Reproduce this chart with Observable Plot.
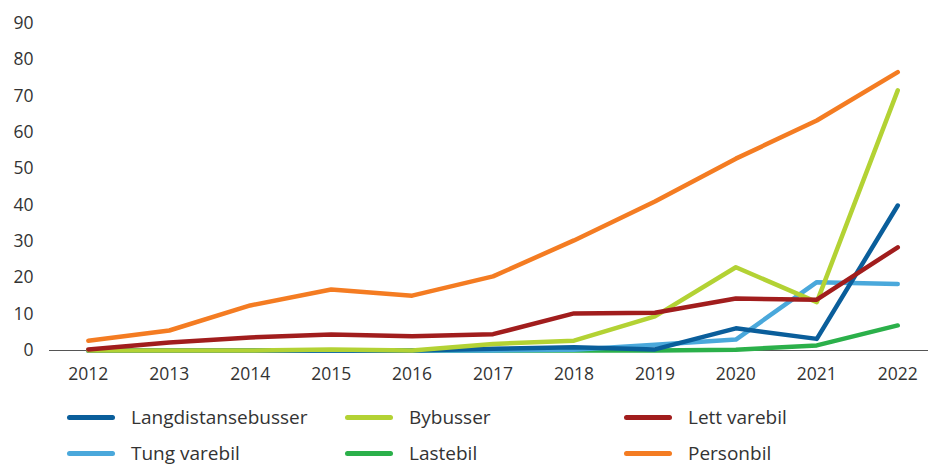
<!DOCTYPE html>
<html><head><meta charset="utf-8">
<script src="https://cdn.jsdelivr.net/npm/d3@7"></script>
<script src="https://cdn.jsdelivr.net/npm/@observablehq/plot@0.6"></script>
<style>
body{margin:0;background:#fff;font-family:"Open Sans",sans-serif;}
#wrap{position:relative;width:928px;height:464px;}
.leg{position:absolute;display:flex;align-items:center;font-size:19px;color:#333;}
.sw{width:48px;height:5px;border-radius:3px;margin-right:16px;}
</style></head>
<body><div id="wrap"></div>
<script>
const years = [2012,2013,2014,2015,2016,2017,2018,2019,2020,2021,2022];
const seriesNames = ["Langdistansebusser","Bybusser","Lett varebil","Tung varebil","Lastebil","Personbil"];
const colors = ["#0a5e9b","#b3d234","#a11d1d","#4aa8db","#2bb04a","#f47c22"];
const langdistansebusser = [0,0,0,0,0,0.5,0.9,0.3,6.1,3.2,39.9];
const bybusser = [0,0,0,0.3,0,1.8,2.7,9.4,22.9,13.3,71.6];
const lettVarebil = [0.3,2.2,3.6,4.4,3.9,4.5,10.2,10.4,14.3,14.0,28.4];
const tungVarebil = [0,0,0,0,0,0,0.2,1.6,3.0,18.8,18.3];
const lastebil = [0,0,0,0,0,0,0,0,0.2,1.4,6.9];
const personbil = [2.7,5.5,12.4,16.8,15.1,20.4,30.3,41.0,52.8,63.3,76.6];
const yTicks = [0,10,20,30,40,50,60,70,80,90];

const allSeries = [langdistansebusser,bybusser,lettVarebil,tungVarebil,lastebil,personbil];
const drawOrder = [4,3,0,1,2,5];
const rows = [];
for (const i of drawOrder) years.forEach((y,j)=>rows.push({year:y,value:allSeries[i][j],series:seriesNames[i]}));

const chart = Plot.plot({
  width: 928, height: 395,
  marginLeft: 49, marginRight: 0, marginTop: 23, marginBottom: 45,
  style: {fontFamily: '"Open Sans", sans-serif', fontSize: "17.5px", color: "#333", overflow: "visible"},
  x: {domain: [2011.52, 2022.38], ticks: years, tickFormat: d => String(d), tickSize: 0, tickPadding: 17, label: null},
  y: {domain: [0, 90], ticks: yTicks, tickSize: 0, tickPadding: 16, label: null},
  color: {domain: seriesNames, range: colors},
  marks: [
    Plot.ruleY([0], {stroke: "#555", strokeWidth: 1}),
    Plot.line(rows, {x: "year", y: "value", z: "series", stroke: "series", strokeWidth: 4.5, strokeLinecap: "round", strokeLinejoin: "round"})
  ]
});
const wrap = document.getElementById("wrap");
wrap.appendChild(chart);

const legCols = [67, 345, 624];
const legRows = [417, 453];
seriesNames.forEach((n,i)=>{
  const d = document.createElement("div");
  d.className = "leg";
  d.style.left = legCols[i%3] + "px";
  d.style.top = (legRows[Math.floor(i/3)] - 13) + "px";
  d.style.height = "26px";
  const s = document.createElement("div");
  s.className = "sw"; s.style.background = colors[i];
  const t = document.createElement("span"); t.textContent = n;
  d.appendChild(s); d.appendChild(t);
  wrap.appendChild(d);
});
</script></body></html>
